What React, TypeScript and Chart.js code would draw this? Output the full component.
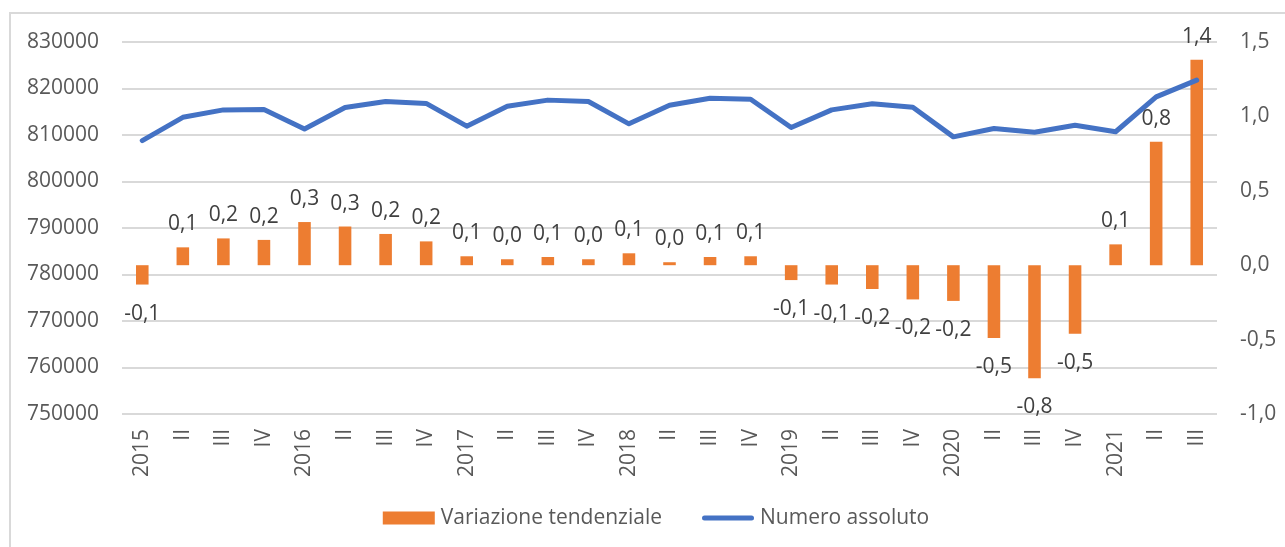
import React, { useEffect, useRef } from "react";
import { Chart, registerables } from "chart.js";

Chart.register(...registerables);

const categories = [
  "2015", "II", "III", "IV",
  "2016", "II", "III", "IV",
  "2017", "II", "III", "IV",
  "2018", "II", "III", "IV",
  "2019", "II", "III", "IV",
  "2020", "II", "III", "IV",
  "2021", "II", "III",
];

const variazioneTendenziale = [
  -0.13, 0.12, 0.18, 0.17,
  0.29, 0.26, 0.21, 0.16,
  0.06, 0.04, 0.055, 0.04,
  0.08, 0.02, 0.055, 0.06,
  -0.1, -0.13, -0.16, -0.23,
  -0.24, -0.49, -0.76, -0.46,
  0.14, 0.83, 1.38,
];

const numeroAssoluto = [
  808800, 813800, 815400, 815500,
  811300, 815900, 817200, 816800,
  811900, 816200, 817500, 817200,
  812400, 816400, 817900, 817700,
  811600, 815400, 816700, 815950,
  809600, 811400, 810600, 812100,
  810700, 818200, 821800,
];

const seriesNames = ["Variazione tendenziale", "Numero assoluto"];

const ORANGE = "#ED7D31";
const BLUE = "#4472C4";
const TICK_COLOR = "#595959";
const LABEL_COLOR = "#404040";
const FONT_FAMILY = '"Open Sans", "Noto Sans", sans-serif';
const FONT_SIZE = 21;

const fmtComma = (v: number) => v.toFixed(1).replace(".", ",");

const dataLabelPlugin = {
  id: "barDataLabels",
  afterDatasetsDraw(chart: any) {
    const meta = chart.getDatasetMeta(0);
    const ctx = chart.ctx;
    ctx.save();
    ctx.font = `${FONT_SIZE}px ${FONT_FAMILY}`;
    ctx.fillStyle = LABEL_COLOR;
    ctx.textAlign = "center";
    ctx.textBaseline = "alphabetic";
    meta.data.forEach((el: any, i: number) => {
      const v = chart.data.datasets[0].data[i] as number;
      const text = fmtComma(v);
      if (v >= 0) {
        ctx.fillText(text, el.x, el.y - 17);
      } else {
        ctx.fillText(text, el.x, el.y + 35);
      }
    });
    ctx.restore();
  },
};

const customLegendPlugin = {
  id: "customLegend",
  afterDraw(chart: any) {
    const ctx = chart.ctx;
    ctx.save();
    ctx.font = `${FONT_SIZE}px ${FONT_FAMILY}`;
    const swW = 52;
    const gap = 6;
    const between = 40;
    const w0 = ctx.measureText(seriesNames[0]).width;
    const w1 = ctx.measureText(seriesNames[1]).width;
    const total = swW + gap + w0 + between + swW + gap + w1;
    const cx = 656;
    const cy = 518;
    let x = cx - total / 2;
    ctx.fillStyle = ORANGE;
    ctx.fillRect(x, cy - 6.5, swW, 13);
    ctx.fillStyle = TICK_COLOR;
    ctx.textAlign = "left";
    ctx.textBaseline = "middle";
    ctx.fillText(seriesNames[0], x + swW + gap, cy);
    x += swW + gap + w0 + between;
    ctx.strokeStyle = BLUE;
    ctx.lineWidth = 5;
    ctx.lineCap = "round";
    ctx.beginPath();
    ctx.moveTo(x + 2.5, cy);
    ctx.lineTo(x + swW - 2.5, cy);
    ctx.stroke();
    ctx.fillStyle = TICK_COLOR;
    ctx.fillText(seriesNames[1], x + swW + gap, cy);
    ctx.restore();
  },
};

export default function App() {
  const canvasRef = useRef<HTMLCanvasElement | null>(null);

  useEffect(() => {
    let chart: Chart | null = null;
    let cancelled = false;

    const build = () => {
      if (cancelled || !canvasRef.current) return;
      chart = new Chart(canvasRef.current, {
        type: "bar",
        data: {
          labels: categories,
          datasets: [
            {
              type: "bar",
              label: seriesNames[0],
              data: variazioneTendenziale,
              backgroundColor: ORANGE,
              borderWidth: 0,
              yAxisID: "y1",
              barPercentage: 0.31,
              categoryPercentage: 1,
              order: 2,
            },
            {
              type: "line",
              label: seriesNames[1],
              data: numeroAssoluto,
              borderColor: BLUE,
              backgroundColor: BLUE,
              borderWidth: 5,
              pointRadius: 0,
              pointHoverRadius: 0,
              tension: 0,
              borderCapStyle: "round",
              borderJoinStyle: "round",
              fill: false,
              yAxisID: "y",
              order: 1,
            },
          ] as any,
        },
        options: {
          responsive: false,
          animation: false,
          devicePixelRatio: 1,
          layout: { padding: { top: 42, left: 0, right: 0, bottom: 0 } },
          plugins: {
            legend: { display: false },
            tooltip: { enabled: false },
            title: { display: false },
          },
          scales: {
            x: {
              grid: { display: false, drawTicks: false },
              border: { display: false },
              ticks: {
                autoSkip: false,
                minRotation: 90,
                maxRotation: 90,
                padding: 15,
                color: TICK_COLOR,
                font: { family: FONT_FAMILY, size: FONT_SIZE },
              },
              afterFit(scale: any) {
                scale.height = 133;
              },
            },
            y: {
              position: "left",
              min: 750000,
              max: 830000,
              grid: { color: "#d9d9d9", lineWidth: 2, drawTicks: false },
              border: { display: false },
              ticks: {
                stepSize: 10000,
                padding: 23,
                color: TICK_COLOR,
                font: { family: FONT_FAMILY, size: FONT_SIZE },
                callback: (v: any) => String(v),
              },
              afterFit(scale: any) {
                scale.width = 122;
              },
            },
            y1: {
              position: "right",
              min: -1,
              max: 1.5,
              grid: { display: false, drawTicks: false },
              border: { display: false },
              ticks: {
                stepSize: 0.5,
                padding: 23,
                color: TICK_COLOR,
                font: { family: FONT_FAMILY, size: FONT_SIZE },
                callback: (v: any) => fmtComma(Number(v)),
              },
              afterFit(scale: any) {
                scale.width = 68;
              },
            },
          },
        },
        plugins: [dataLabelPlugin, customLegendPlugin],
      });
    };

    const fontsApi = (document as any).fonts;
    if (fontsApi && fontsApi.load) {
      fontsApi
        .load(`${FONT_SIZE}px "Open Sans"`)
        .then(build, build);
    } else {
      build();
    }

    return () => {
      cancelled = true;
      if (chart) chart.destroy();
    };
  }, []);

  return (
    <div
      style={{
        position: "absolute",
        left: 0,
        top: 0,
        width: 1285,
        height: 547,
        overflow: "hidden",
        background: "#ffffff",
      }}
    >
      <div
        style={{
          position: "absolute",
          left: 9,
          top: 12,
          width: 1400,
          height: 700,
          border: "2px solid #d9d9d9",
          boxSizing: "border-box",
        }}
      />
      <canvas
        ref={canvasRef}
        width={1285}
        height={547}
        style={{ position: "absolute", left: 0, top: 0, width: 1285, height: 547 }}
      />
    </div>
  );
}
